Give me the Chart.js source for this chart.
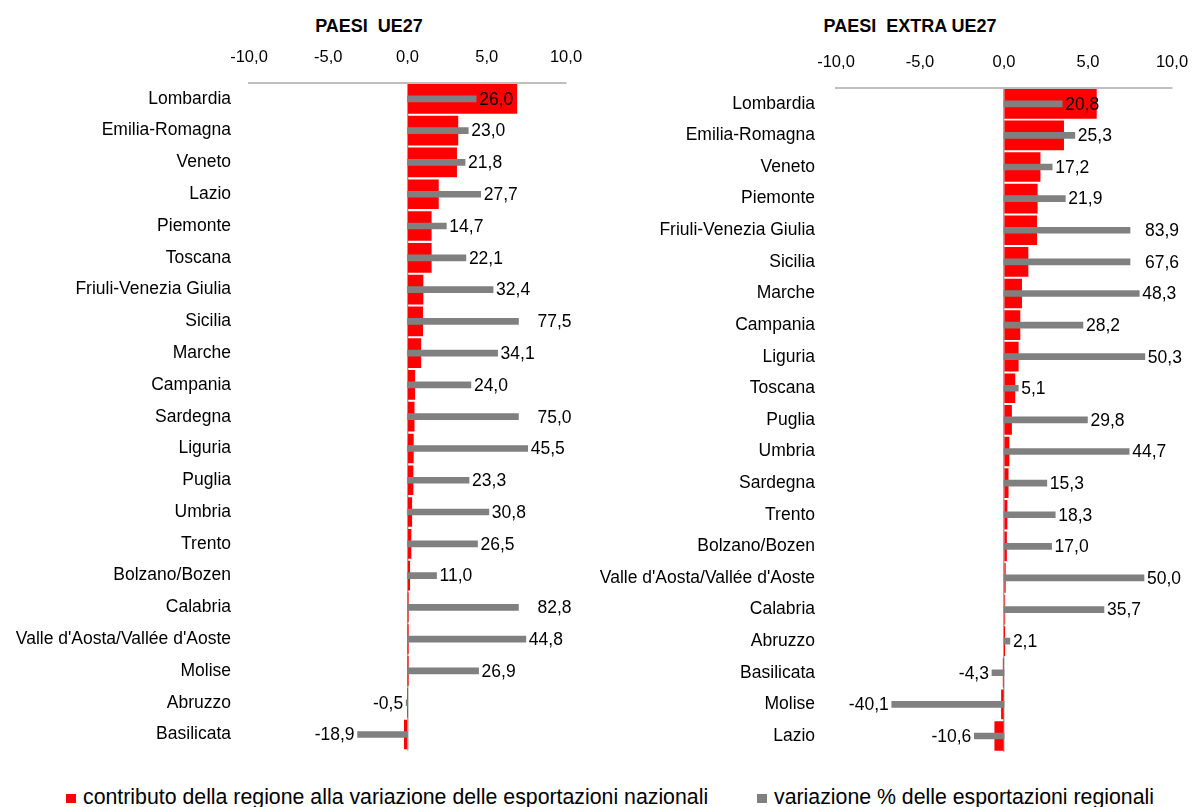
<!DOCTYPE html>
<html lang="it">
<head>
<meta charset="utf-8">
<title>Esportazioni regionali</title>
<script src="https://cdn.jsdelivr.net/npm/chart.js@4.4.1/dist/chart.umd.min.js"></script>
<style>
  html, body { margin: 0; padding: 0; background: #fff; }
  body { width: 1194px; height: 807px; position: relative; overflow: hidden;
         font-family: "Liberation Sans", Arial, sans-serif; color: #000; }
  canvas { position: absolute; top: 0; }
  #grafico-ue { left: 0; }
  #grafico-extra { left: 597px; }
  .titolo { position: absolute; top: 17px; font-weight: bold; font-size: 18px;
            line-height: 18px; white-space: pre; transform: translateX(-50%); }
  .legenda { position: absolute; top: 785px; font-size: 21.3px; line-height: 24px; white-space: nowrap; }
  .legenda i { position: absolute; width: 10px; height: 9px; top: 9px; left: -17px; }
</style>
</head>
<body>
<div class="titolo" style="left:369px">PAESI  UE27</div>
<div class="titolo" style="left:910px">PAESI  EXTRA UE27</div>
<canvas id="grafico-ue" width="597" height="760"></canvas>
<canvas id="grafico-extra" width="597" height="760"></canvas>
<div class="legenda" style="left:83px"><i style="background:#ff0000"></i>contributo della regione alla variazione delle esportazioni nazionali</div>
<div class="legenda" style="left:774px"><i style="background:#808080"></i>variazione % delle esportazioni regionali</div>

<script>
// --- dati ---
const regioniUE = [
  "Lombardia", "Emilia-Romagna", "Veneto", "Lazio", "Piemonte", "Toscana",
  "Friuli-Venezia Giulia", "Sicilia", "Marche", "Campania", "Sardegna", "Liguria",
  "Puglia", "Umbria", "Trento", "Bolzano/Bozen", "Calabria",
  "Valle d'Aosta/Vallée d'Aoste", "Molise", "Abruzzo", "Basilicata"
];
// contributo della regione (scala -10 / 10)
const contributoUE = [6.9, 3.18, 3.1, 1.95, 1.5, 1.5, 0.98, 0.96, 0.84, 0.46, 0.42, 0.37,
  0.35, 0.27, 0.22, 0.14, 0.03, 0.02, 0.02, 0.0, -0.2];
// variazione % (etichette)
const variazioneUE = [26.0, 23.0, 21.8, 27.7, 14.7, 22.1, 32.4, 77.5, 34.1, 24.0, 75.0, 45.5,
  23.3, 30.8, 26.5, 11.0, 82.8, 44.8, 26.9, -0.5, -18.9];
// lunghezza delle barre grigie come disegnate (valori alti tagliati nell'originale)
const barreVariazioneUE = [26.0, 23.0, 21.8, 27.7, 14.7, 22.1, 32.4, 42.0, 34.1, 24.0, 42.0, 45.5,
  23.3, 30.8, 26.5, 11.0, 42.0, 44.8, 26.9, -0.5, -18.9];

const regioniExtra = [
  "Lombardia", "Emilia-Romagna", "Veneto", "Piemonte", "Friuli-Venezia Giulia", "Sicilia",
  "Marche", "Campania", "Liguria", "Toscana", "Puglia", "Umbria", "Sardegna", "Trento",
  "Bolzano/Bozen", "Valle d'Aosta/Vallée d'Aoste", "Calabria", "Abruzzo", "Basilicata",
  "Molise", "Lazio"
];
const contributoExtra = [5.5, 3.55, 2.15, 1.98, 1.95, 1.43, 1.05, 0.95, 0.85, 0.65, 0.45, 0.3,
  0.25, 0.18, 0.15, 0.08, 0.05, 0.02, -0.05, -0.15, -0.55];
const variazioneExtra = [20.8, 25.3, 17.2, 21.9, 83.9, 67.6, 48.3, 28.2, 50.3, 5.1, 29.8, 44.7,
  15.3, 18.3, 17.0, 50.0, 35.7, 2.1, -4.3, -40.1, -10.6];
const barreVariazioneExtra = [20.8, 25.3, 17.2, 21.9, 45.0, 45.0, 48.3, 28.2, 50.3, 5.1, 29.8, 44.7,
  15.3, 18.3, 17.0, 50.0, 35.7, 2.1, -4.3, -40.1, -10.6];

const tickContributo = [-10, -5, 0, 5, 10];

const ROSSO = "#ff0000";
const GRIGIO = "#808080";
const FONT = "'Liberation Sans', Arial, sans-serif";

Chart.defaults.font.family = FONT;
Chart.defaults.color = "#000";

const virgola = (v) => v.toFixed(1).replace(".", ",");

// etichette delle barre grigie
const etichettePlugin = {
  id: "etichette",
  afterDatasetsDraw(chart, args, opts) {
    const ctx = chart.ctx;
    const meta = chart.getDatasetMeta(0);
    ctx.save();
    ctx.font = "17.5px " + FONT;
    ctx.fillStyle = "#000";
    ctx.textBaseline = "middle";
    meta.data.forEach((bar, i) => {
      const v = opts.valori[i];
      const tagliata = Math.abs(v) > Math.abs(opts.barre[i]) + 0.01;
      const scarto = tagliata ? opts.scartoTagliata : 3;
      if (v < 0) {
        ctx.textAlign = "right";
        ctx.fillText(virgola(v), bar.x - scarto, bar.y + 1);
      } else {
        ctx.textAlign = "left";
        ctx.fillText(virgola(v), bar.x + scarto, bar.y + 1);
      }
    });
    ctx.restore();
  }
};

function creaGrafico(id, regioni, contributo, variazione, barre, opz) {
  return new Chart(document.getElementById(id), {
    type: "bar",
    data: {
      labels: regioni,
      datasets: [
        {
          label: "variazione % delle esportazioni regionali",
          data: barre,
          xAxisID: "x2",
          backgroundColor: GRIGIO,
          barThickness: 6,
          grouped: false,
          order: 0
        },
        {
          label: "contributo della regione alla variazione delle esportazioni nazionali",
          data: contributo,
          xAxisID: "x",
          backgroundColor: ROSSO,
          barThickness: 29,
          grouped: false,
          order: 1
        }
      ]
    },
    options: {
      indexAxis: "y",
      responsive: false,
      animation: false,
      layout: { padding: { left: 0, right: opz.destra, top: 0, bottom: opz.sotto } },
      scales: {
        x: {
          position: "top",
          min: -10,
          max: 10,
          afterBuildTicks: (scale) => { scale.ticks = tickContributo.map((v) => ({ value: v })); },
          afterFit: (scale) => {
            scale.height = opz.alto;
            scale.paddingLeft = 0;
            scale.paddingRight = 0;
          },
          ticks: {
            callback: (v) => virgola(v),
            font: { size: 16.5 },
            color: "#000",
            padding: 16,
            maxRotation: 0
          },
          grid: {
            drawTicks: false,
            lineWidth: 1.5,
            color: (c) => (c.tick && c.tick.value === 0 ? "#a6a6a6" : "rgba(0,0,0,0)")
          },
          border: { display: true, color: "#bfbfbf", width: 2 }
        },
        x2: {
          axis: "x",
          type: "linear",
          min: -60,
          max: 60,
          display: false
        },
        y: {
          afterFit: (scale) => {
            scale.width = opz.sinistra;
            scale.paddingTop = 0;
            scale.paddingBottom = 0;
          },
          ticks: { font: { size: 17.5 }, color: "#000", padding: opz.spazioEtichette, autoSkip: false },
          grid: { display: false, drawTicks: false },
          border: { display: false }
        }
      },
      plugins: {
        legend: { display: false },
        tooltip: { enabled: false },
        etichette: { valori: variazione, barre: barre, scartoTagliata: opz.scartoTagliata }
      }
    },
    plugins: [etichettePlugin]
  });
}

creaGrafico("grafico-ue", regioniUE, contributoUE, variazioneUE, barreVariazioneUE,
  { sinistra: 249, destra: 31, alto: 83, sotto: 9.6, spazioEtichette: 18, scartoTagliata: 19 });
creaGrafico("grafico-extra", regioniExtra, contributoExtra, variazioneExtra, barreVariazioneExtra,
  { sinistra: 239, destra: 22, alto: 88, sotto: 8.2, spazioEtichette: 21, scartoTagliata: 15 });
</script>
</body>
</html>
